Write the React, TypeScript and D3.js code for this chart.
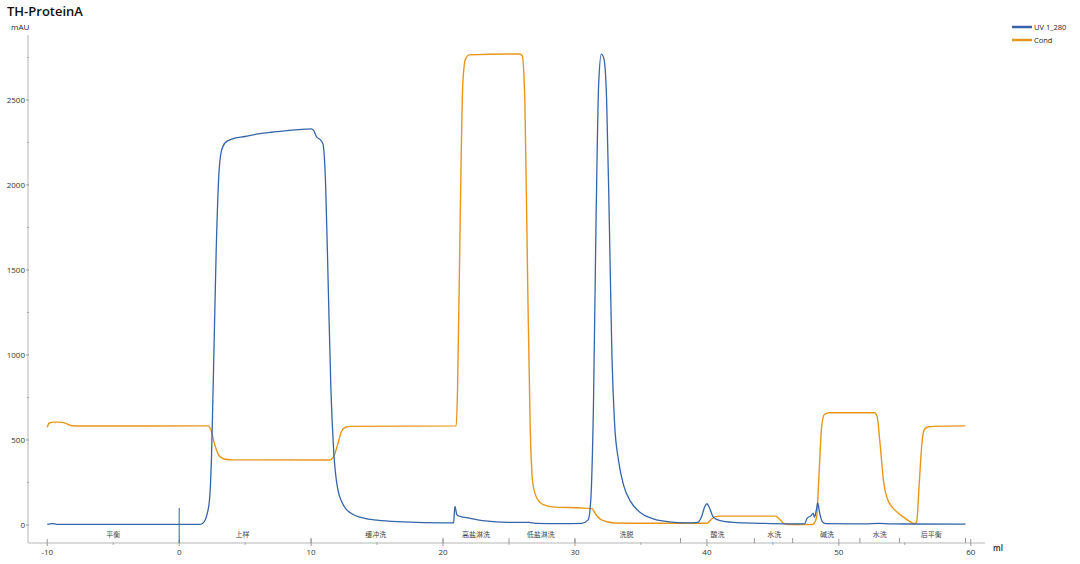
import * as d3 from "d3";

// UV 1_280 trace (ml, mAU)
const uvMl = [-10, -9.6, -9.3, -8, 0, 1.6, 1.9, 2.1, 2.3, 2.45, 2.6, 2.8, 3.0, 3.2, 3.5, 4, 5, 6, 7, 8, 9, 10.0, 10.2, 10.4, 10.7, 10.9, 11.1, 11.3, 11.5, 11.7, 12.0, 12.5, 13, 14, 15, 17, 20, 20.8, 20.9, 21.05, 21.3, 22, 23, 25, 26.5, 27, 29, 30.5, 31.0, 31.2, 31.4, 31.6, 31.8, 32.0, 32.2, 32.4, 32.6, 32.8, 33.0, 33.3, 33.7, 34.2, 35, 36, 37, 38.5, 39.3, 39.6, 39.85, 40.0, 40.2, 40.5, 41, 42, 44, 46, 47.4, 47.6, 47.9, 48.05, 48.15, 48.3, 48.4, 48.55, 48.75, 49.0, 52, 53, 54, 59.6];
const uvVal = [3, 8, 4, 3, 3, 3, 20, 60, 150, 400, 900, 1600, 2050, 2200, 2250, 2270, 2285, 2300, 2310, 2318, 2325, 2330, 2320, 2285, 2265, 2240, 2000, 1400, 800, 450, 220, 110, 70, 40, 28, 18, 12, 12, 110, 60, 50, 40, 25, 15, 15, 10, 8, 10, 30, 150, 700, 1800, 2600, 2770, 2740, 2500, 1800, 1000, 600, 380, 230, 140, 70, 35, 20, 12, 15, 50, 110, 125, 100, 45, 25, 15, 10, 7, 7, 40, 55, 70, 45, 90, 130, 70, 20, 8, 6, 10, 6, 5];

// Cond trace (ml, shown on mAU axis)
const condMl = [-10, -9.85, -9.5, -9, -8.6, -8.2, -7.5, 2.2, 2.4, 2.7, 3.0, 3.4, 4, 11.4, 11.7, 12.0, 12.3, 12.6, 13, 21.0, 21.1, 21.3, 21.5, 21.7, 22, 25, 25.8, 26.0, 26.2, 26.4, 26.6, 26.8, 27.1, 27.6, 28.5, 30.5, 31.3, 31.6, 32, 33, 35, 40.0, 40.3, 40.6, 41, 45.2, 45.5, 45.8, 46.2, 48.0, 48.3, 48.5, 48.7, 48.9, 49.3, 52.7, 52.9, 53.1, 53.4, 53.7, 54, 54.5, 55, 55.5, 55.75, 55.9, 56.1, 56.3, 56.5, 56.8, 57.2, 59.6];
const condVal = [575, 600, 605, 605, 598, 585, 582, 583, 560, 470, 410, 388, 383, 382, 400, 470, 550, 575, 580, 583, 800, 1800, 2600, 2740, 2765, 2770, 2770, 2760, 2500, 1500, 600, 250, 160, 120, 105, 100, 95, 60, 30, 12, 10, 10, 30, 48, 52, 52, 35, 10, 3, 3, 40, 300, 580, 650, 660, 660, 640, 500, 250, 150, 110, 70, 40, 15, 8, 20, 250, 480, 565, 578, 580, 583];

// fractions
const fracNames = ["平衡", "上样", "缓冲洗", "高盐淋洗", "低盐淋洗", "洗脱", "酸洗", "水洗", "碱洗", "水洗", "后平衡"];
const fracCenters = [-5, 4.8, 14.9, 22.5, 27.4, 33.9, 40.8, 45.1, 49.1, 53.1, 57.0];
const fracMarks = [10, 20, 25, 30, 38, 43.6, 46.5, 51.6, 54.6, 59.6];
const injectAt = 0;

const xMajor = [-10, 0, 10, 20, 30, 40, 50, 60];
const xMinor = [-5, 5, 15, 25, 35, 45, 55];
const yMajor = [0, 500, 1000, 1500, 2000, 2500];
const yMinor = [250, 750, 1250, 1750, 2250, 2750];

const seriesNames = ["UV 1_280", "Cond"];
const colors = ["#3565a8", "#e8961a"];

const W = 1080;
const H = 564;
const axisLeft = 28;
const axisRight = 985;
const axisBottom = 543;
const axisTop = 35;

const font = "'Open Sans', 'Noto Sans', sans-serif";
const cjk = "'Noto Sans CJK SC', sans-serif";

export default function App() {
  const x = d3.scaleLinear().domain([-11.46, 61.08]).range([axisLeft, axisRight]);
  const y = d3.scaleLinear().domain([-106, 2882]).range([axisBottom, axisTop]);

  const line = d3
    .line<[number, number]>()
    .x((d) => x(d[0]))
    .y((d) => y(d[1]))
    .curve(d3.curveMonotoneX);

  const uvPts = uvMl.map((m, i) => [m, uvVal[i]] as [number, number]);
  const condPts = condMl.map((m, i) => [m, condVal[i]] as [number, number]);

  return (
    <svg
      width={W}
      height={H}
      style={{ position: "absolute", left: 0, top: 0, background: "#fff" }}
    >
      <text x={7} y={16} fontFamily={font} fontWeight={600} fontSize={13} fill="#111">
        TH-ProteinA
      </text>
      <text x={11} y={30} fontFamily={font} fontSize={8} fill="#222">
        mAU
      </text>

      {/* y axis */}
      <line x1={axisLeft} x2={axisLeft} y1={axisTop} y2={axisBottom} stroke="#b5b5b5" />
      {yMajor.map((v) => (
        <g key={"ym" + v}>
          <line x1={axisLeft - 2} x2={axisLeft + 1} y1={y(v)} y2={y(v)} stroke="#999" />
          <text x={axisLeft - 3} y={y(v) + 3} textAnchor="end" fontFamily={font} fontSize={8} fill="#333">
            {v}
          </text>
        </g>
      ))}
      {yMinor.map((v) => (
        <line key={"yn" + v} x1={axisLeft - 1} x2={axisLeft + 1} y1={y(v)} y2={y(v)} stroke="#aaa" />
      ))}

      {/* x axis */}
      <line x1={axisLeft} x2={axisRight} y1={axisBottom} y2={axisBottom} stroke="#b5b5b5" />
      {xMajor.map((v) => (
        <g key={"xm" + v}>
          <line x1={x(v)} x2={x(v)} y1={axisBottom - 4} y2={axisBottom + 3} stroke="#999" />
          <text x={x(v)} y={axisBottom + 12} textAnchor="middle" fontFamily={font} fontSize={8} fill="#333">
            {v}
          </text>
        </g>
      ))}
      {xMinor.map((v) => (
        <line key={"xn" + v} x1={x(v)} x2={x(v)} y1={axisBottom - 1} y2={axisBottom + 2} stroke="#aaa" />
      ))}
      {fracMarks.map((v) => (
        <line key={"fm" + v} x1={x(v)} x2={x(v)} y1={axisBottom - 5} y2={axisBottom} stroke="#999" />
      ))}
      {fracNames.map((n, i) => (
        <text key={"fn" + i} x={x(fracCenters[i])} y={axisBottom - 6} textAnchor="middle" fontFamily={cjk} fontSize={7} fill="#444">
          {n}
        </text>
      ))}
      <line x1={x(injectAt)} x2={x(injectAt)} y1={508} y2={axisBottom} stroke={colors[0]} strokeWidth={1} />
      <text x={993} y={551} fontFamily={font} fontSize={8} fontWeight={600} fill="#222">
        ml
      </text>

      {/* series */}
      <path d={line(condPts) ?? ""} fill="none" stroke={colors[1]} strokeWidth={1.4} />
      <path d={line(uvPts) ?? ""} fill="none" stroke={colors[0]} strokeWidth={1.3} />

      {/* legend */}
      {seriesNames.map((n, i) => (
        <g key={n} transform={`translate(1012, ${27 + i * 13})`}>
          <line x1={0} x2={20} y1={0} y2={0} stroke={colors[i]} strokeWidth={2.5} />
          <text x={22} y={3} fontFamily={font} fontSize={7.5} fill="#222">
            {n}
          </text>
        </g>
      ))}
    </svg>
  );
}
